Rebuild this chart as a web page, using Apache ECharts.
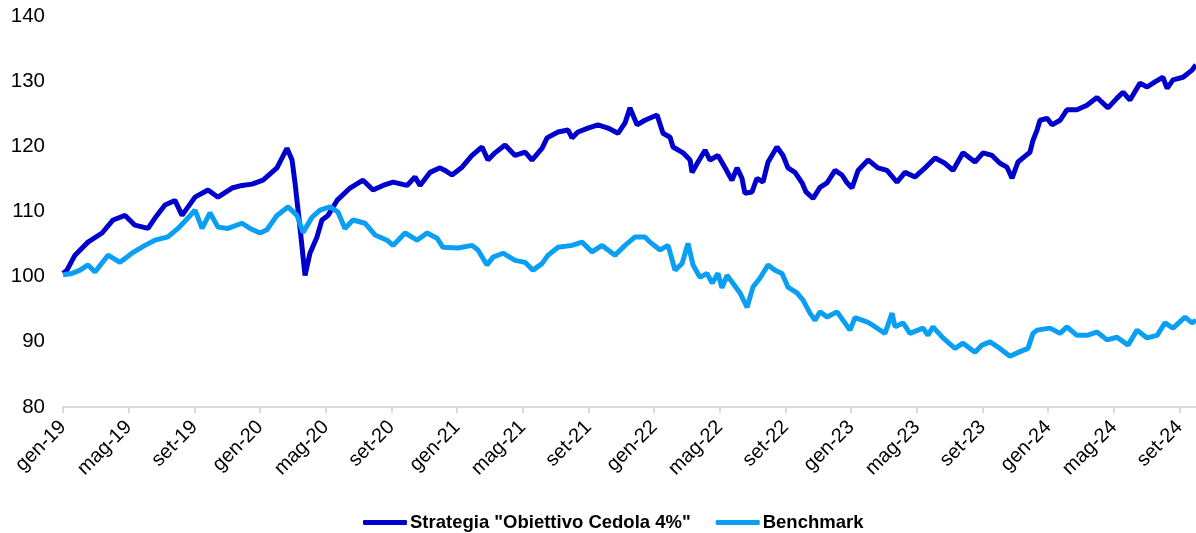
<!DOCTYPE html>
<html>
<head>
<meta charset="utf-8">
<script src="https://cdn.jsdelivr.net/npm/echarts@6/dist/echarts.min.js"></script>
<style>
  html, body {margin: 0; padding: 0; background: #fff;}
  #main {width: 1196px; height: 533px;}
</style>
</head>
<body>
<div id="main"></div>
<script>
// mesi dall'inizio (gen-19 = 0) e valori
const tickLabels = ['gen-19', 'mag-19', 'set-19', 'gen-20', 'mag-20', 'set-20', 'gen-21', 'mag-21', 'set-21',
  'gen-22', 'mag-22', 'set-22', 'gen-23', 'mag-23', 'set-23', 'gen-24', 'mag-24', 'set-24'];

const strategiaMesi = [0, 0.24, 0.73, 1.52, 2.38, 3.05, 3.78, 4.38, 5.18, 5.60, 6.21, 6.82, 7.25, 8.04, 8.83, 9.44,
  10.29, 10.90, 11.51, 12.18, 13.03, 13.64, 13.95, 14.13, 14.43, 14.74, 15.04, 15.47, 15.77, 16.14, 16.69, 17.48,
  18.27, 18.88, 19.49, 20.10, 20.95, 21.44, 21.74, 22.35, 22.96, 23.26, 23.69, 24.30, 24.91, 25.52, 25.88, 26.31,
  26.92, 27.53, 28.14, 28.56, 29.17, 29.48, 30.15, 30.76, 31.00, 31.36, 31.97, 32.58, 33.19, 33.80, 34.23, 34.53,
  34.96, 35.44, 36.18, 36.54, 36.97, 37.15, 37.76, 38.19, 38.31, 38.67, 39.10, 39.40, 39.89, 40.32, 40.74, 41.05,
  41.35, 41.53, 41.96, 42.26, 42.63, 42.94, 43.48, 43.85, 44.15, 44.58, 45.01, 45.25, 45.68, 46.10, 46.53, 47.02,
  47.44, 47.75, 48.05, 48.42, 49.03, 49.63, 50.18, 50.79, 51.28, 51.89, 52.50, 53.11, 53.71, 54.20, 54.81, 55.54,
  56.03, 56.58, 57.06, 57.49, 57.80, 58.16, 58.59, 58.89, 59.07, 59.32, 59.50, 59.93, 60.23, 60.72, 61.14, 61.75,
  62.36, 62.97, 63.64, 64.19, 64.56, 64.98, 65.59, 66.02, 66.50, 66.99, 67.24, 67.60, 68.21, 68.76, 69.00];
const strategiaValori = [100.5, 101, 103.3, 105.3, 106.7, 108.7, 109.4, 107.9, 107.4, 109, 111, 111.7, 109.4, 112.2, 113.3, 112.2,
  113.6, 114, 114.2, 114.8, 116.7, 119.7, 117.9, 114.4, 107.6, 100.2, 103.6, 106.1, 108.7, 109.4, 111.7, 113.6,
  114.8, 113.3, 114, 114.5, 114, 115.3, 114, 116, 116.7, 116.3, 115.6, 116.8, 118.6, 119.9, 117.9, 119,
  120.2, 118.6, 119.1, 117.9, 119.7, 121.3, 122.2, 122.5, 121.3, 122.2, 122.8, 123.3, 122.8, 122, 123.6, 125.9,
  123.3, 124, 124.8, 122, 121.4, 119.9, 119, 117.9, 116, 117.6, 119.4, 117.9, 118.6, 116.7, 114.8, 116.7,
  115.1, 112.8, 113, 115.1, 114.5, 117.6, 119.9, 118.6, 116.7, 116, 114.4, 113, 112, 113.7, 114.4, 116.3,
  115.6, 114.4, 113.6, 116.3, 117.9, 116.7, 116.3, 114.5, 116, 115.3, 116.7, 118.2, 117.4, 116.3, 119, 117.6,
  119, 118.6, 117.4, 116.8, 115.1, 117.6, 118.5, 119.1, 120.9, 122.5, 124, 124.3, 123.3, 124, 125.6, 125.6,
  126.3, 127.5, 125.9, 127.4, 128.3, 127.1, 129.7, 129.1, 129.9, 130.6, 128.9, 130.2, 130.6, 131.7, 132.5];

const benchmarkMesi = [0, 0.55, 1.04, 1.52, 1.95, 2.74, 3.47, 4.20, 4.99, 5.60, 6.39, 7.00, 7.61, 8.04, 8.47, 8.95,
  9.44, 10.05, 10.90, 11.39, 12.00, 12.42, 13.03, 13.70, 14.25, 14.62, 15.16, 15.65, 16.26, 16.75, 17.17, 17.66,
  18.39, 19.00, 19.73, 20.10, 20.83, 21.56, 22.17, 22.78, 23.14, 24.06, 24.91, 25.27, 25.82, 26.19, 26.80, 27.53,
  28.14, 28.62, 29.17, 29.54, 30.15, 31.00, 31.61, 32.22, 32.83, 33.62, 34.23, 34.84, 35.44, 35.75, 36.36, 36.85,
  37.27, 37.70, 38.06, 38.37, 38.79, 39.22, 39.53, 39.89, 40.13, 40.44, 40.80, 41.23, 41.66, 42.02, 42.45, 42.94,
  43.36, 43.79, 44.15, 44.70, 45.07, 45.49, 45.80, 46.10, 46.53, 47.14, 47.93, 48.23, 49.03, 50.06, 50.49, 50.67,
  51.16, 51.58, 52.38, 52.68, 52.98, 53.59, 54.32, 54.81, 55.54, 55.97, 56.46, 56.94, 57.67, 58.28, 58.77, 59.07,
  59.32, 60.11, 60.72, 61.14, 61.75, 62.36, 62.97, 63.58, 64.19, 64.86, 65.41, 66.02, 66.63, 67.11, 67.60, 68.33,
  68.76, 69.00];
const benchmarkValori = [100.3, 100.5, 101, 101.8, 100.7, 103.3, 102.2, 103.6, 104.8, 105.6, 106.1, 107.4, 109, 110.2, 107.4, 109.8,
  107.6, 107.4, 108.2, 107.4, 106.7, 107.2, 109.4, 110.7, 109.4, 106.8, 109.1, 110.2, 110.7, 109.9, 107.4, 108.7,
  108.2, 106.4, 105.6, 104.8, 106.7, 105.6, 106.7, 105.9, 104.5, 104.4, 104.8, 104.1, 101.8, 103, 103.6, 102.5,
  102.2, 101, 102, 103.3, 104.5, 104.8, 105.3, 103.8, 104.8, 103.3, 104.8, 106.1, 106.1, 105.3, 104.1, 104.8,
  101, 102, 105.1, 101.8, 99.9, 100.5, 99, 100.5, 98.3, 100.2, 99, 97.5, 95.3, 98.4, 99.8, 101.8,
  101, 100.5, 98.4, 97.5, 96.4, 94.4, 93.3, 94.6, 93.8, 94.6, 91.8, 93.7, 93, 91.3, 94.4, 92.3,
  92.9, 91.3, 92.1, 91, 92.3, 90.6, 89, 89.8, 88.4, 89.5, 90, 89.2, 87.8, 88.5, 89, 91.3,
  91.8, 92.1, 91.3, 92.3, 91, 91, 91.5, 90.3, 90.7, 89.5, 91.8, 90.6, 91, 92.9, 92.1, 93.8,
  92.9, 93.3];

const pair = (xs, ys) => xs.map((x, i) => [x, ys[i]]);

const chart = echarts.init(document.getElementById('main'));
chart.setOption({
  animation: false,
  textStyle: {fontFamily: '"Liberation Sans", Arial, sans-serif'},
  grid: {left: 63, right: 0, top: 16, bottom: 126},
  legend: {
    top: 508,
    left: 358,
    icon: 'roundRect',
    itemWidth: 44,
    itemHeight: 5,
    itemGap: 25,
    textStyle: {fontSize: 18.5, fontWeight: 'bold', color: '#000', padding: [0, 0, 0, -2]},
    data: ['Strategia "Obiettivo Cedola 4%"', 'Benchmark']
  },
  xAxis: {
    type: 'value',
    min: 0,
    max: 69,
    interval: 4,
    splitLine: {show: false},
    axisLine: {lineStyle: {color: '#d9d9d9', width: 2}},
    axisTick: {show: true, length: 6, lineStyle: {color: '#d9d9d9', width: 2}},
    axisLabel: {
      rotate: 45,
      margin: 17,
      fontSize: 20,
      color: '#000',
      showMaxLabel: false,
      formatter: v => (v % 4 === 0 ? tickLabels[v / 4] : '')
    }
  },
  yAxis: {
    type: 'value',
    min: 80,
    max: 140,
    interval: 10,
    splitLine: {show: false},
    axisLine: {show: false},
    axisTick: {show: false},
    axisLabel: {fontSize: 20.5, color: '#000', margin: 18}
  },
  series: [
    {
      name: 'Strategia "Obiettivo Cedola 4%"',
      type: 'line',
      showSymbol: false,
      data: pair(strategiaMesi, strategiaValori),
      color: '#0000CD',
      lineStyle: {width: 5, color: '#0000CD'}
    },
    {
      name: 'Benchmark',
      type: 'line',
      showSymbol: false,
      data: pair(benchmarkMesi, benchmarkValori),
      color: '#0A9FF2',
      lineStyle: {width: 5, color: '#0A9FF2'}
    }
  ]
});
</script>
</body>
</html>
